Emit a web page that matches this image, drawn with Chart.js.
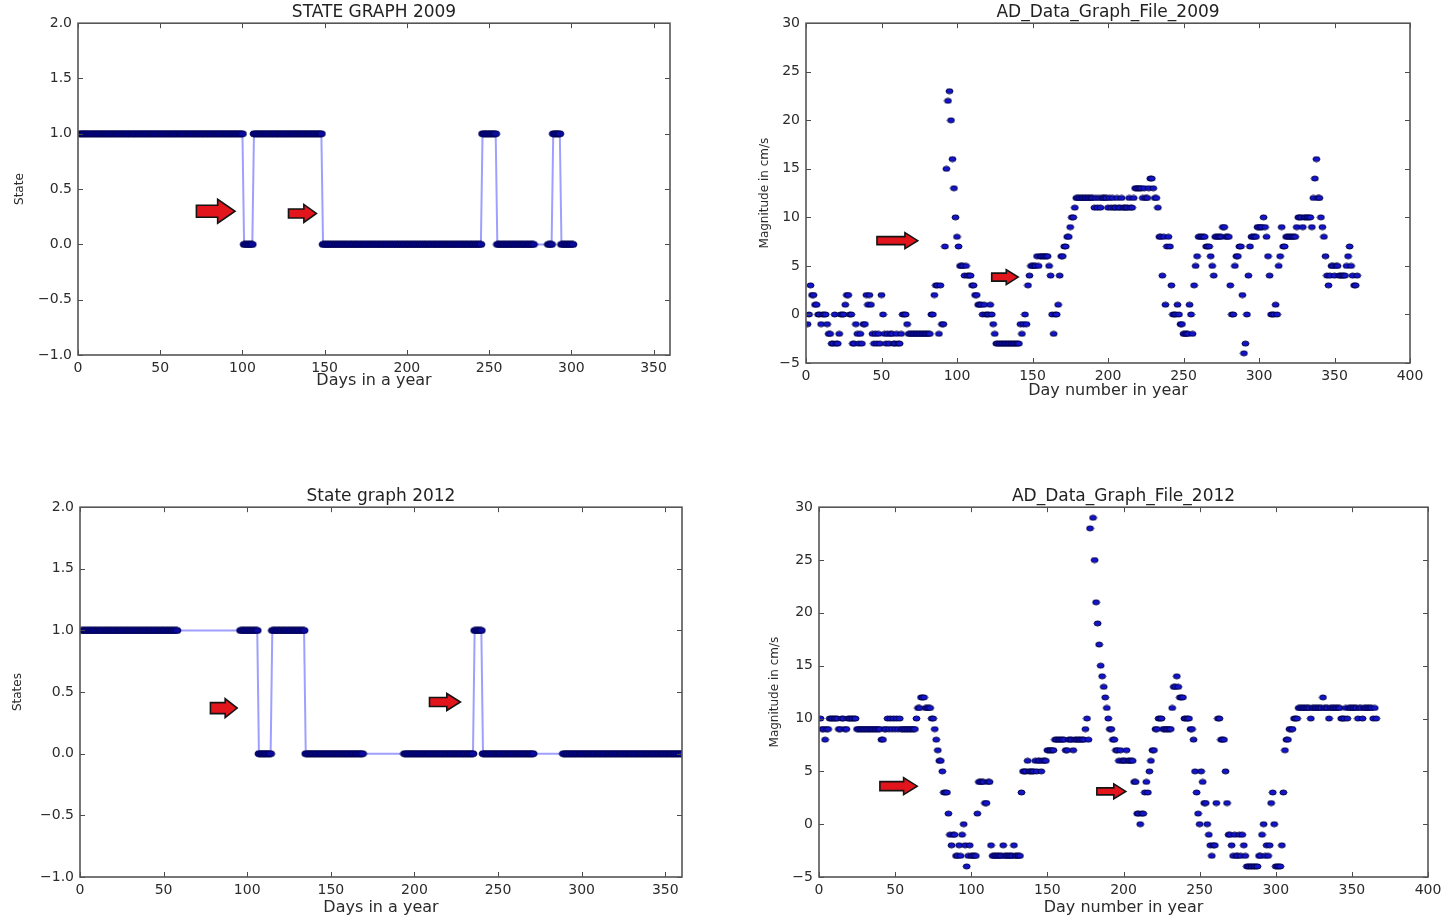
<!DOCTYPE html>
<html>
<head>
<meta charset="utf-8">
<title>State graphs and AD data graphs 2009 / 2012</title>
<script src="https://cdn.jsdelivr.net/npm/chart.js@4.4.1/dist/chart.umd.min.js"></script>
<style>
    html, body { margin: 0; padding: 0; background: #fff; }
    body { width: 1451px; height: 921px; position: relative; overflow: hidden; }
    .panel { position: absolute; }
    .panel canvas { display: block; }
</style>
</head>
<body>
<div class="panel" style="left:0px;top:0px"><canvas id="state2009" width="720" height="420"></canvas></div>
<div class="panel" style="left:725px;top:0px"><canvas id="ad2009" width="726" height="420"></canvas></div>
<div class="panel" style="left:0px;top:470px"><canvas id="state2012" width="720" height="451"></canvas></div>
<div class="panel" style="left:725px;top:470px"><canvas id="ad2012" width="726" height="451"></canvas></div>
<script>
// ============================================
// DATA (one value per day)
// ============================================

// state per day, starting on day 1 (null = no sample, the line spans it)
const state2009 = [
    1,1,1,1,1,1,1,1,1,1, 1,1,1,1,1,1,1,1,1,1,
    1,1,1,1,1,1,1,1,1,1, 1,1,1,1,1,1,1,1,1,1,
    1,1,1,1,1,1,1,1,1,1, 1,1,1,1,1,1,1,1,1,1,
    1,1,1,1,1,1,1,1,1,1, 1,1,1,1,1,1,1,1,1,1,
    1,1,1,1,1,1,1,1,1,1, 1,1,1,1,1,1,1,1,1,1,
    0,0,0,0,0,0,1,1,1,1, 1,1,1,1,1,1,1,1,1,1,
    1,1,1,1,1,1,1,1,1,1, 1,1,1,1,1,1,1,1,1,1,
    1,1,1,1,1,1,1,1,0,0, 0,0,0,0,0,0,0,0,0,0,
    0,0,0,0,0,0,0,0,0,0, 0,0,0,0,0,0,0,0,0,0,
    0,0,0,0,0,0,0,0,0,0, 0,0,0,0,0,0,0,0,0,0,
    0,0,0,0,0,0,0,0,0,0, 0,0,0,0,0,0,0,0,0,0,
    0,0,0,0,0,0,0,0,0,0, 0,0,0,0,0,0,0,0,0,0,
    0,0,0,0,0,1,1,1,1,1, 1,1,1,1,0,0,0,0,0,0,
    0,0,0,0,0,0,0,0,0,0, 0,0,0,0,0,0,0,null,null,null,
    null,null,null,null,null,0,0,0,1,1, 1,1,1,0,0,0,0,0,0,0,
    0
];

const state2012 = [
    1,1,1,1,1,1,1,1,1,1, 1,1,1,1,1,1,1,1,1,1,
    1,1,1,1,1,1,1,1,1,1, 1,1,1,1,1,1,1,1,1,1,
    1,1,1,1,1,1,1,1,1,1, 1,1,1,1,1,1,1,1,null,null,
    null,null,null,null,null,null,null,null,null,null, null,null,null,null,null,null,null,null,null,null,
    null,null,null,null,null,null,null,null,null,null, null,null,null,null,null,1,1,1,1,1,
    1,1,1,1,1,1,0,0,0,0, 0,0,0,0,1,1,1,1,1,1,
    1,1,1,1,1,1,1,1,1,1, 1,1,1,1,0,0,0,0,0,0,
    0,0,0,0,0,0,0,0,0,0, 0,0,0,0,0,0,0,0,0,0,
    0,0,0,0,0,0,0,0,0,null, null,null,null,null,null,null,null,null,null,null,
    null,null,null,null,null,null,null,null,null,null, null,null,null,0,0,0,0,0,0,0,
    0,0,0,0,0,0,0,0,0,0, 0,0,0,0,0,0,0,0,0,0,
    0,0,0,0,0,0,0,0,0,0, 0,0,0,0,0,1,1,1,1,1,
    0,0,0,0,0,0,0,0,0,0, 0,0,0,0,0,0,0,0,0,0,
    0,0,0,0,0,0,0,0,0,0, 0,null,null,null,null,null,null,null,null,null,
    null,null,null,null,null,null,null,null,0,0, 0,0,0,0,0,0,0,0,0,0,
    0,0,0,0,0,0,0,0,0,0, 0,0,0,0,0,0,0,0,0,0,
    0,0,0,0,0,0,0,0,0,0, 0,0,0,0,0,0,0,0,0,0,
    0,0,0,0,0,0,0,0,0,0, 0,0,0,0,0,0,0,0,0,0,
    0,0,0,0,0,0
];

// magnitude in cm/s per day, starting on day 1
const magnitude2009 = [
    -1, 0, 3, 2, 2, 1, 1, 0, 0, -1,
    0, 0, 0, -1, -2, -2, -3, -3, 0, -3,
    -3, -2, 0, 0, 0, 1, 2, 2, 0, 0,
    -3, -3, -1, -2, -3, -2, -3, -1, -1, 2,
    1, 2, 1, -2, -3, -2, -3, -2, -3, 2,
    0, -2, -3, -2, -3, -2, -2, -3, -3, -2,
    -3, -3, -2, 0, 0, 0, -1, -2, -2, -2,
    -2, -2, -2, -2, -2, -2, -2, -2, -2, -2,
    -2, -2, 0, 0, 2, 3, 3, -2, 3, -1,
    -1, 7, 15, 22, 23, 20, 16, 13, 10, 8,
    7, 5, 5, 5, 4, 5, 4, 4, 4, 3,
    3, 2, 2, 1, 1, 1, 0, 1, 0, 0,
    0, 1, 0, -1, -2, -3, -3, -3, -3, -3,
    -3, -3, -3, -3, -3, -3, -3, -3, -3, -3,
    -3, -1, -2, -1, 0, -1, 3, 4, 5, 5,
    5, 5, 6, 5, 6, 6, 6, 6, 6, 6,
    5, 4, 0, -2, 0, 0, 1, 4, 6, 6,
    7, 7, 8, 8, 9, 10, 10, 11, 12, 12,
    12, 12, 12, 12, 12, 12, 12, 12, 12, 12,
    11, 12, 11, 12, 11, 12, 12, 12, 12, 11,
    12, 11, 12, 11, 11, 12, 11, 11, 12, 11,
    11, 11, 11, 12, 11, 11, 12, 13, 13, 13,
    13, 13, 12, 13, 12, 12, 13, 14, 14, 13,
    12, 12, 11, 8, 8, 4, 8, 1, 7, 8,
    7, 3, 0, 0, 0, 1, 0, -1, -1, -2,
    -2, -2, -2, 1, 0, -2, 3, 5, 6, 8,
    8, 8, 8, 8, 7, 7, 7, 6, 5, 4,
    8, 8, 8, 8, 8, 9, 9, 8, 8, 8,
    3, 0, 0, 5, 6, 6, 7, 7, 2, -4,
    -3, 0, 4, 7, 8, 8, 8, 8, 9, 9,
    9, 9, 10, 9, 8, 6, 4, 0, 0, 0,
    1, 0, 5, 6, 9, 7, 7, 8, 8, 8,
    8, 8, 8, 8, 9, 10, 10, 10, 9, 10,
    10, 10, 10, 10, 9, 12, 14, 16, 12, 12,
    10, 9, 8, 6, 4, 3, 4, 5, 5, 4,
    5, 5, 4, 4, 4, 4, 4, 5, 6, 7,
    5, 4, 3, 3, 4
];

const magnitude2012 = [
    10, 9, 9, 8, 9, 9, 10, 10, 10, 10,
    10, 10, 9, 9, 10, 10, 9, 9, 10, 10,
    10, 10, 10, 10, 9, 9, 9, 9, 9, 9,
    9, 9, 9, 9, 9, 9, 9, 9, 9, 9,
    8, 8, 9, 9, 10, 9, 10, 9, 10, 9,
    10, 9, 10, 9, 9, 9, 9, 9, 9, 9,
    9, 9, 9, 10, 11, 11, 12, 12, 12, 11,
    11, 11, 11, 10, 10, 9, 8, 7, 6, 6,
    5, 3, 3, 3, 1, -1, -2, -1, -1, -3,
    -3, -2, -3, -1, 0, -2, -4, -3, -2, -3,
    -3, -3, -3, 1, 4, 4, 4, 4, 2, 2,
    4, 4, -2, -3, -3, -3, -3, -3, -3, -3,
    -2, -3, -3, -3, -3, -3, -3, -2, -3, -3,
    -3, -3, 3, 5, 5, 5, 6, 5, 5, 5,
    5, 6, 5, 6, 6, 5, 6, 6, 6, 7,
    7, 7, 7, 7, 8, 8, 8, 8, 8, 8,
    8, 7, 7, 8, 8, 8, 7, 8, 8, 8,
    8, 8, 8, 8, 9, 10, 8, 28, null, 29,
    25, 21, 19, 17, 15, 14, 13, 12, 11, 10,
    9, 9, 8, 8, 7, 7, 6, 7, 6, 6,
    6, 7, 6, 6, 6, 6, 4, 4, 1, 1,
    0, 1, 1, 3, 4, 3, 5, 6, 7, 7,
    9, 9, 10, 10, 10, 9, 9, 9, 9, 9,
    9, 11, 13, 13, 14, 13, 12, 12, 12, 10,
    10, 10, 10, 9, 9, 8, 5, 3, 1, 0,
    5, 4, 2, 2, 0, -1, -2, -3, -2, -2,
    2, 10, 10, 8, 8, 8, 5, 2, -1, -1,
    -2, -3, -1, -3, -3, -1, -3, -1, -2, -3,
    -4, -4, -4, -4, -4, -4, -4, -4, -3, -3,
    -1, 0, -3, -2, -3, -2, 2, 3, 0, -4,
    -4, -4, -4, -2, 3, 7, 8, 8, 9, 9,
    9, 10, 10, 10, 11, 11, 11, 11, 11, 11,
    11, 11, 10, 11, 11, 11, 11, 11, 11, 11,
    12, 11, 11, 11, 10, 11, 11, 11, 11, 11,
    11, 11, 10, 10, 10, 11, 10, 11, 11, 11,
    11, 11, 11, 10, 11, 11, 10, 11, 11, 11,
    11, 11, 11, 10, 11, 10
];

// axis ticks
const stateTicksY = [-1, -0.5, 0, 0.5, 1, 1.5, 2];
const stateTicksX = [0, 50, 100, 150, 200, 250, 300, 350];
const magTicksY = [-5, 0, 5, 10, 15, 20, 25, 30];
const magTicksX = [0, 50, 100, 150, 200, 250, 300, 350, 400];

// red arrows pasted on the figure: [from day, to day, at value]
const arrows2009State = [[72, 95.5, 0.30], [128, 145, 0.28]];
const arrows2009Mag = [[47, 74, 7.6], [123, 140.5, 3.85]];
const arrows2012State = [[78, 94, 0.37], [209, 227.5, 0.42]];
const arrows2012Mag = [[40, 64.5, 3.6], [182.5, 201.5, 3.1]];

// ============================================
// HELPERS
// ============================================

Chart.defaults.font.family = '"DejaVu Sans", "Liberation Sans", sans-serif';
Chart.defaults.font.size = 14;
Chart.defaults.color = '#2b2b2b';

const MINUS = '\u2212';
const byDay = values => values.map((v, i) => ({ x: i + 1, y: v }));

function dotImage(w, h, fill, edge) {
    const c = document.createElement('canvas');
    c.width = w + 2;
    c.height = h + 2;
    const g = c.getContext('2d');
    g.beginPath();
    g.ellipse(c.width / 2, c.height / 2, w / 2, h / 2, 0, 0, Math.PI * 2);
    g.fillStyle = fill;
    g.fill();
    g.lineWidth = 1;
    g.strokeStyle = edge;
    g.stroke();
    return c;
}

const stateDot = dotImage(8, 6, '#0a0aa0', '#000050');
const magDot = dotImage(7, 5, '#1414cc', '#00004a');

// matplotlib look: box frame, inward ticks on four sides, pasted arrows
const mplFrame = {
    id: 'mplFrame',
    afterDatasetsDraw(chart, args, opts) {
        const { ctx, chartArea: a, scales: { x, y } } = chart;
        ctx.save();
        ctx.strokeStyle = '#4a4a4a';
        ctx.lineWidth = 1;
        ctx.beginPath();
        opts.ticksX.forEach(v => {
            const px = Math.round(x.getPixelForValue(v)) + 0.5;
            ctx.moveTo(px, a.bottom); ctx.lineTo(px, a.bottom - 5);
            ctx.moveTo(px, a.top); ctx.lineTo(px, a.top + 5);
        });
        opts.ticksY.forEach(v => {
            const py = Math.round(y.getPixelForValue(v)) + 0.5;
            ctx.moveTo(a.left, py); ctx.lineTo(a.left + 5, py);
            ctx.moveTo(a.right, py); ctx.lineTo(a.right - 5, py);
        });
        ctx.stroke();
        ctx.lineWidth = 1.6;
        ctx.strokeStyle = '#555';
        ctx.strokeRect(a.left, a.top, a.right - a.left, a.bottom - a.top);

        // arrows
        (opts.arrows || []).forEach(([d0, d1, v], i) => {
            const x0 = x.getPixelForValue(d0);
            const x1 = x.getPixelForValue(d1);
            const yc = y.getPixelForValue(v);
            const [head, shaft] = opts.arrowSizes[i];
            const xh = x1 - Math.min((x1 - x0) * 0.45, head * 0.8);
            ctx.beginPath();
            ctx.moveTo(x0, yc - shaft / 2);
            ctx.lineTo(xh, yc - shaft / 2);
            ctx.lineTo(xh, yc - head / 2);
            ctx.lineTo(x1, yc);
            ctx.lineTo(xh, yc + head / 2);
            ctx.lineTo(xh, yc + shaft / 2);
            ctx.lineTo(x0, yc + shaft / 2);
            ctx.closePath();
            ctx.fillStyle = '#e3151c';
            ctx.fill();
            ctx.lineWidth = 1.6;
            ctx.strokeStyle = '#141414';
            ctx.stroke();
        });
        ctx.restore();
    }
};

function makePanel(canvasId, p) {
    const numX = v => (v < 0 ? MINUS : '') + Math.abs(v);
    const numY = v => (v < 0 ? MINUS : '') + (p.decimals ? Math.abs(v).toFixed(1) : Math.abs(v));

    return new Chart(document.getElementById(canvasId), {
        type: p.type,
        data: { datasets: [p.dataset] },
        plugins: [mplFrame],
        options: {
            responsive: false,
            animation: false,
            devicePixelRatio: 1,
            layout: { padding: { left: 0, top: 0, right: p.padRight, bottom: 0 } },
            plugins: {
                legend: { display: false },
                tooltip: { enabled: false },
                title: {
                    display: true,
                    text: p.title,
                    fullSize: false,
                    color: '#222',
                    font: { size: 17, weight: 'normal', lineHeight: 1.2 },
                    padding: p.titlePad
                },
                mplFrame: { ticksX: p.ticksX, ticksY: p.ticksY, arrows: p.arrows, arrowSizes: p.arrowSizes }
            },
            scales: {
                x: {
                    type: 'linear',
                    min: p.ticksX[0],
                    max: p.xMax,
                    grid: { display: false, drawTicks: false },
                    border: { display: false },
                    afterBuildTicks: axis => { axis.ticks = p.ticksX.map(v => ({ value: v })); },
                    afterFit: axis => { axis.height = p.xHeight; },
                    ticks: { padding: 5, maxRotation: 0, autoSkip: false, callback: numX },
                    title: {
                        display: true,
                        text: p.xLabel,
                        color: '#2b2b2b',
                        font: { size: 16, lineHeight: 1.2 },
                        padding: { top: 0, bottom: p.xTitlePad }
                    }
                },
                y: {
                    type: 'linear',
                    min: p.ticksY[0],
                    max: p.ticksY[p.ticksY.length - 1],
                    grid: { display: false, drawTicks: false },
                    border: { display: false },
                    afterBuildTicks: axis => { axis.ticks = p.ticksY.map(v => ({ value: v })); },
                    afterFit: axis => { axis.width = p.yWidth; },
                    ticks: { padding: 6, autoSkip: false, callback: numY },
                    title: {
                        display: true,
                        text: p.yLabel,
                        color: '#2b2b2b',
                        font: { size: 12, lineHeight: 1.2 },
                        padding: { top: p.yTitlePad, bottom: 0 }
                    }
                }
            }
        }
    });
}

function stateDataset(values) {
    return {
        data: byDay(values),
        spanGaps: true,
        borderColor: 'rgba(80, 80, 255, 0.55)',
        borderWidth: 2,
        tension: 0,
        pointStyle: stateDot,
        pointRadius: 3,
        pointHoverRadius: 3
    };
}

function magDataset(values) {
    return {
        data: byDay(values),
        pointStyle: magDot,
        pointRadius: 3,
        pointHoverRadius: 3
    };
}

// ============================================
// THE FOUR PANELS
// ============================================

makePanel('state2009', {
    type: 'line', dataset: stateDataset(state2009),
    title: 'STATE GRAPH 2009', xLabel: 'Days in a year', yLabel: 'State',
    ticksX: stateTicksX, ticksY: stateTicksY, xMax: 360, decimals: true,
    yWidth: 78, xHeight: 65, padRight: 50,
    titlePad: { top: 2.8, bottom: 0 }, xTitlePad: 29.4, yTitlePad: 12.8,
    arrows: arrows2009State, arrowSizes: [[24, 12], [18, 9]]
});

makePanel('ad2009', {
    type: 'scatter', dataset: magDataset(magnitude2009),
    title: 'AD_Data_Graph_File_2009', xLabel: 'Day number in year', yLabel: 'Magnitude in cm/s',
    ticksX: magTicksX, ticksY: magTicksY, xMax: 400, decimals: false,
    yWidth: 81, xHeight: 57, padRight: 41,
    titlePad: { top: 2.8, bottom: 0 }, xTitlePad: 19.4, yTitlePad: 32.8,
    arrows: arrows2009Mag, arrowSizes: [[16, 8], [15, 8]]
});

makePanel('state2012', {
    type: 'line', dataset: stateDataset(state2012),
    title: 'State graph 2012', xLabel: 'Days in a year', yLabel: 'States',
    ticksX: stateTicksX, ticksY: stateTicksY, xMax: 360, decimals: true,
    yWidth: 80, xHeight: 44, padRight: 38,
    titlePad: { top: 16.8, bottom: 0 }, xTitlePad: 3.4, yTitlePad: 10.8,
    arrows: arrows2012State, arrowSizes: [[19, 11], [17, 9]]
});

makePanel('ad2012', {
    type: 'scatter', dataset: magDataset(magnitude2012),
    title: 'AD_Data_Graph_File_2012', xLabel: 'Day number in year', yLabel: 'Magnitude in cm/s',
    ticksX: magTicksX, ticksY: magTicksY, xMax: 400, decimals: false,
    yWidth: 94, xHeight: 44, padRight: 23,
    titlePad: { top: 16.8, bottom: 0 }, xTitlePad: 3.4, yTitlePad: 42.8,
    arrows: arrows2012Mag, arrowSizes: [[17, 9], [15, 7]]
});
</script>
</body>
</html>
